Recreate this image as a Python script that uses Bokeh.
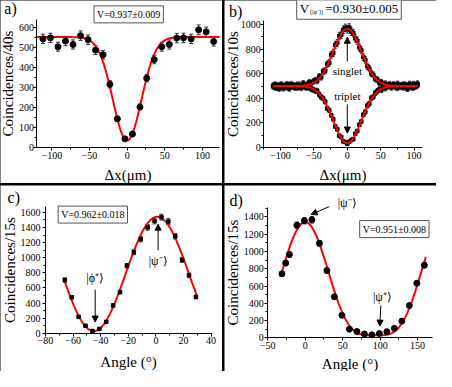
import numpy as np
from bokeh.plotting import figure
from bokeh.models import (Range1d, SingleIntervalTicker, ColumnDataSource, Whisker,
                          TeeHead, Label, Arrow, NormalHead, GridBox)
from bokeh.embed import file_html
from bokeh.resources import INLINE

FONT = "Liberation Serif"

# ---------------- panel a ----------------
a_x = [-112, -102, -92, -82, -72, -62, -52, -42, -32, -23, -13, -3,
       7, 17, 26, 36, 46, 56, 66, 75, 85, 95, 105, 115]
a_y = [541, 546, 502, 530, 513, 557, 537, 485, 462, 315, 143, 43,
       67, 202, 345, 438, 502, 513, 545, 546, 541, 586, 576, 528]
a_base, a_vis, a_center, a_sigma = 550, 0.937, 0, 19

# ---------------- panel b ----------------
b_x = [-111, -108, -105, -102, -99, -96, -93, -90, -87, -84, -81, -78, -75,
       -72, -69, -66, -63, -60, -57, -54, -51, -48, -45, -42, -39, -36, -33,
       -30, -27, -24, -21, -18, -15, -12, -9, -6, -3, 0, 3, 6, 9, 12, 15, 18,
       21, 24, 27, 30, 33, 36, 39, 42, 45, 48, 51, 54, 57, 60, 63, 66, 69, 72,
       75, 78, 81, 84, 87, 90, 93, 96, 99, 102, 105]
b_singlet = [497, 512, 486, 503, 495, 481, 508, 499, 489, 515, 494, 502, 487,
             509, 496, 521, 498, 513, 530, 522, 536, 548, 541, 577, 572, 619, 624,
             678, 688, 754, 768, 835, 849, 906, 917, 958, 972, 962, 975, 941, 930,
             887, 868, 814, 790, 735, 712, 660, 641, 601, 590, 556, 552, 527, 531,
             510, 519, 502, 514, 495, 508, 491, 517, 498, 506, 489, 510, 494, 516,
             501, 487, 508, 519]
b_triplet = [503, 488, 505, 479, 512, 497, 489, 514, 480, 496, 505, 487, 510,
             493, 484, 507, 490, 486, 501, 476, 470, 462, 459, 430, 409, 398, 372,
             318, 302, 262, 230, 171, 148, 96, 84, 49, 44, 30, 47, 61, 68, 112,
             134, 185, 211, 266, 289, 340, 357, 401, 412, 444, 458, 473, 469, 490,
             482, 497, 501, 488, 512, 503, 485, 507, 492, 511, 498, 477, 508, 489,
             515, 496, 505]
b_base, b_vis, b_sigma = 500, 0.930, 21

# ---------------- panel c ----------------
c_x = [-66, -61, -56, -51, -46, -41, -36, -31, -26, -21, -16, -11, -6, -1,
       4, 9, 14, 19, 24, 29]
c_y = [705, 478, 219, 101, 32, 59, 152, 370, 545, 894, 1072, 1245, 1401, 1485,
       1536, 1477, 1283, 970, 768, 481]
c_mean, c_vis, c_center, c_period = 785, 0.962, 1, 92

# ---------------- panel d ----------------
d_x = [-31, -26, -21, -11, -1, 9, 19, 29, 39, 49, 59, 69, 79, 89, 99, 109,
       119, 129, 139, 149, 159]
d_y = [741, 865, 965, 1303, 1355, 1365, 1093, 778, 476, 262, 100, 74, 45, 35,
       50, 72, 110, 194, 374, 632, 840]
d_floor, d_amp, d_center, d_period = 30, 1308, 0, 186


def make_fig(w, h, xb, xpx, yb, ypx, xbounds, ybounds, xint, yint,
             xlabel, ylabel, ytick_stand, ylab_stand, xlab_stand):
    """Frame fills the whole figure; axes are pinned inside it."""
    kx = (xpx[1] - xpx[0]) / (xb[1] - xb[0])
    x0 = xb[0] - xpx[0] / kx
    ky = (ypx[0] - ypx[1]) / (yb[1] - yb[0])
    y0 = yb[0] - (h - ypx[0]) / ky
    p = figure(width=w, height=h,
               x_range=Range1d(x0, x0 + w / kx), y_range=Range1d(y0, y0 + h / ky),
               output_backend="svg", toolbar_location=None,
               min_border_left=0, min_border_right=0,
               min_border_top=0, min_border_bottom=0)
    p.outline_line_color = None
    p.background_fill_color = "white"
    p.border_fill_color = "white"
    p.xgrid.visible = False
    p.ygrid.visible = False
    p.xaxis.ticker = SingleIntervalTicker(interval=xint, num_minor_ticks=2)
    p.yaxis.ticker = SingleIntervalTicker(interval=yint, num_minor_ticks=2)
    p.xaxis.fixed_location = ybounds[0]
    p.yaxis.fixed_location = xbounds[0]
    p.xaxis.bounds = xbounds
    p.yaxis.bounds = ybounds
    for ax in (p.xaxis[0], p.yaxis[0]):
        ax.major_tick_out = 3
        ax.major_tick_in = 0
        ax.minor_tick_out = 2
        ax.minor_tick_in = 0
        ax.axis_line_color = "black"
        ax.major_tick_line_color = "black"
        ax.minor_tick_line_color = "black"
        ax.major_label_text_font = FONT
        ax.major_label_text_font_size = "10px"
        ax.major_label_text_color = "black"
        ax.axis_label_text_font = FONT
        ax.axis_label_text_font_style = "normal"
        ax.axis_label_text_color = "black"
    p.xaxis.axis_label_text_font_size = "15px"
    p.yaxis.axis_label_text_font_size = "15px"
    p.xaxis.major_label_standoff = 1
    p.xaxis.axis_label_standoff = xlab_stand
    p.yaxis.major_label_standoff = ytick_stand
    p.yaxis.axis_label_standoff = ylab_stand
    p.xaxis.axis_label = xlabel
    p.yaxis.axis_label = ylabel
    return p


def add_points(p, xs, ys, marker, size, head=4):
    ys = np.asarray(ys, dtype=float)
    err = np.sqrt(ys)
    src = ColumnDataSource(dict(x=xs, y=ys, lo=ys - err, hi=ys + err))
    p.add_layout(Whisker(source=src, base="x", upper="hi", lower="lo",
                         line_color="#333333", line_width=1,
                         upper_head=TeeHead(size=head, line_color="#333333"),
                         lower_head=TeeHead(size=head, line_color="#333333")))
    p.scatter("x", "y", source=src, marker=marker, size=size,
              fill_color="black", line_color="black")


def add_label(p, x, y, text, size, box=False):
    kw = dict(x=x, y=y, text=text, text_font=FONT, text_font_size=size,
              text_align="center", text_baseline="middle", text_color="black")
    if box:
        kw.update(border_line_color="#555555", border_line_width=1,
                  background_fill_color="white", padding=3)
    p.add_layout(Label(**kw))


def add_arrow(p, x0, y0, x1, y1):
    p.add_layout(Arrow(end=NormalHead(size=6, fill_color="black", line_color="black"),
                       x_start=x0, y_start=y0, x_end=x1, y_end=y1,
                       line_color="black", line_width=1))


# ---- panel a ----
pa = make_fig(222, 183, (-120, 123), (36.4, 219.2), (0, 637), (147.0, 19.1),
              (-120, 123), (0, 637), 50, 100, "Δx(μm)", "Coincidences/40s",
              0, 0, 5)
xa = np.linspace(-120, 123, 400)
pa.line(xa, a_base * (1 - a_vis * np.exp(-(xa - a_center) ** 2 / (2 * a_sigma ** 2))),
        line_color="red", line_width=2)
add_points(pa, a_x, a_y, "circle", 6)
add_label(pa, 2, 663, "V=0.937±0.009", "10px", box=True)
add_label(pa, -155, 692, "a)", "16px")

# ---- panel b ----
pb = make_fig(212, 183, (-125, 113), (39.3, 198.3), (0, 1000), (147.0, 24.0),
              (-125, 113), (0, 1035), 50, 200, "Δx(μm)", "Coincidences/10s",
              0, -3, 5)
xb = np.linspace(-111, 106, 400)
gb = np.exp(-xb ** 2 / (2 * b_sigma ** 2))
add_points(pb, b_x, b_singlet, "square", 3.5, head=3)
add_points(pb, b_x, b_triplet, "square", 3.5, head=3)
pb.line(xb, b_base * (1 + b_vis * gb), line_color="red", line_width=2)
pb.line(xb, b_base * (1 - b_vis * gb), line_color="red", line_width=2)
add_label(pb, 2.5, 1128, "V\u00a0\u00a0\u00a0\u00a0\u00a0=0.930±0.005", "13px", box=True)
add_label(pb, -46, 1105, "(|ψ⁻⟩)", "6px")
add_label(pb, -167, 1105, "b)", "16px")
add_label(pb, 0, 618, "singlet", "11px")
add_label(pb, 0, 421, "triplet", "11px")
add_arrow(pb, 0, 700, 0, 896)
add_arrow(pb, 0, 350, 0, 117)

# ---- panel c ----
pc = make_fig(222, 186, (-80, 40), (45.0, 210.6), (0, 1600), (147.9, 26.8),
              (-80, 40), (0, 1675), 20, 200, "Angle (°)", "Coincidences/15s",
              2, 0, 6)
xc = np.linspace(-67, 29.5, 300)
pc.line(xc, c_mean * (1 + c_vis * np.cos(2 * np.pi * (xc - c_center) / c_period)),
        line_color="red", line_width=2)
add_points(pc, c_x, c_y, "square", 3.5)
add_label(pc, -45.7, 1570, "V=0.962±0.018", "10px", box=True)
add_label(pc, -103, 1795, "c)", "16px")
add_label(pc, -44, 726, "|ϕ⁺⟩", "12px")
add_label(pc, 1.6, 958, "|ψ⁻⟩", "12px")
add_arrow(pc, -44, 578, -44, 150)
add_arrow(pc, 1.6, 1097, 1.6, 1443)

# ---- panel d ----
pd_ = make_fig(212, 186, (-50, 150), (43.2, 193.1), (0, 1400), (152.4, 31.3),
               (-50, 170), (0, 1505), 50, 200, "Angle (°)", "Coincidences/15s",
               1, 0, 4)
xd = np.linspace(-33, 161, 300)
pd_.line(xd, d_floor + d_amp * np.cos(np.pi * (xd - d_center) / d_period) ** 4,
         line_color="red", line_width=2)
add_points(pd_, d_x, d_y, "circle", 6)
add_label(pd_, 119, 1258, "V=0.951±0.008", "10px", box=True)
add_label(pd_, -92, 1587, "d)", "16px")
add_label(pd_, 56, 1555, "|ψ⁻⟩", "12px")
add_label(pd_, 103, 475, "|ψ⁺⟩", "12px")
add_arrow(pd_, 32, 1518, 8, 1426)
add_arrow(pd_, 101, 376, 99.5, 136)

grid = GridBox(children=[(pa, 0, 0), (pb, 0, 1), (pc, 1, 0), (pd_, 1, 1)],
               spacing=2, styles={"background-color": "black"})

open("out.html", "w").write(file_html(grid, INLINE))
